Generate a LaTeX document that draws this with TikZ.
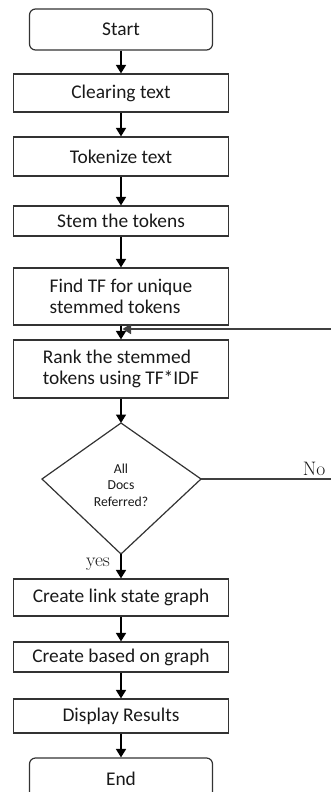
\documentclass[tikz,border=0pt]{standalone}
\usepackage{fontspec}
\newfontfamily\calibri{Carlito}
\usetikzlibrary{arrows.meta}
\begin{document}
\begin{tikzpicture}[x=1pt,y=-1pt,
    outline/.style={draw=black!80,line width=1.2pt},
    stepbox/.style={outline,minimum width=215pt,inner sep=0pt,text=black!90,
      font=\calibri\fontsize{19.4}{21}\selectfont,align=left},
    termbox/.style={stepbox,rounded corners=6pt,minimum width=183pt},
    asklabel/.style={text=black!90,inner sep=0pt,
      font=\calibri\fontsize{13.7}{16.5}\selectfont,align=center},
    flowlabel/.style={text=black!90,inner sep=0pt,font=\fontsize{19.5}{21}\selectfont},
    flow/.style={-{Triangle[width=10pt,length=8.5pt]},line width=1.7pt}]
  \useasboundingbox (0,0) rectangle (330,792);
  \draw
    (121,29.5) node[termbox,minimum height=41pt] (start){Start}
    (121,93) node[stepbox,minimum height=38pt] (clear){Clearing text}
    (121,156.5) node[stepbox,minimum height=39pt] (tokenize){Tokenize text}
    (121,221) node[stepbox,minimum height=30pt] (stem){Stem the tokens}
    (121,296.5) node[stepbox,minimum height=57pt] (findtf){Find TF for unique\\stemmed tokens}
    (121,369) node[stepbox,minimum height=58pt] (rank){Rank the stemmed\\tokens using TF*IDF}
    (121,597.5) node[stepbox,minimum height=37pt] (link){Create link state graph}
    (121,657) node[stepbox,minimum height=30pt] (based){Create based on graph}
    (121,716) node[stepbox,minimum height=34pt] (display){Display Results}
    (121,778.5) node[termbox,minimum height=41pt] (end){End};
  \path
    (121,423) coordinate (dtop)
    (201,479) coordinate (dright)
    (121,554) coordinate (dbot)
    (42,479) coordinate (dleft)
    (334,479) coordinate (noturn)
    (122.5,329) coordinate (merge);
  \draw[outline] (dtop) -- (dright) -- (dbot) -- (dleft) -- cycle;
  \node[asklabel] (ask) at (121,485) {All\\Docs\\Referred?};
  \node[flowlabel] (nolabel) at (314,469) {No};
  \node[flowlabel] (yeslabel) at (98,564) {yes};
  \begin{scope}[flow]
    \draw (start) to (clear);
    \draw (clear) to (tokenize);
    \draw (tokenize) to (stem);
    \draw (stem) to (findtf);
    \draw (findtf) to (rank);
    \draw (rank) to (dtop);
    \draw (dbot) to (link);
    \draw (link) to (based);
    \draw (based) to (display);
    \draw (display) to (end);
    \draw[black!75] (dright) -- (noturn) |- (merge);
  \end{scope}
\end{tikzpicture}
\end{document}
